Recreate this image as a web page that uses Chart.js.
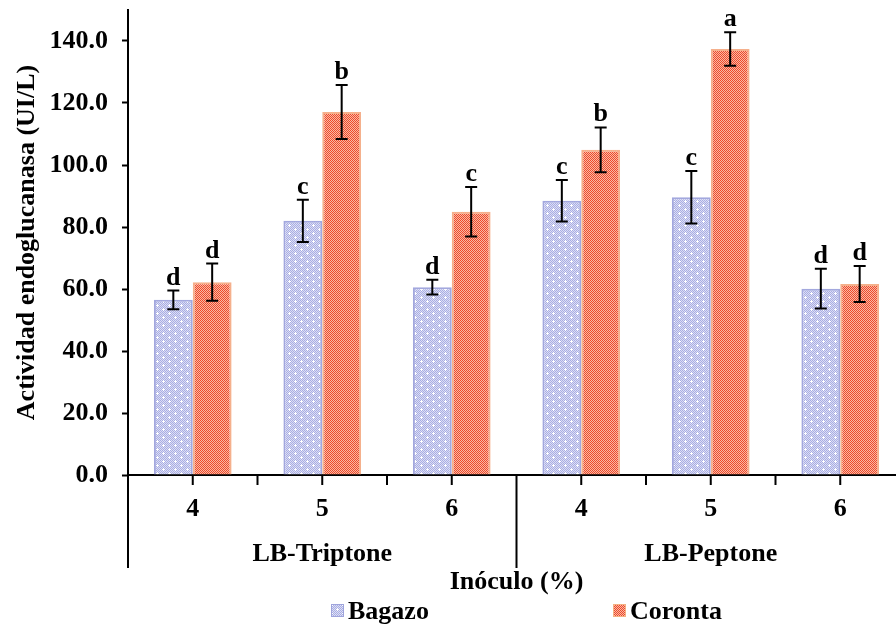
<!DOCTYPE html>
<html>
<head>
<meta charset="utf-8">
<script src="https://cdn.jsdelivr.net/npm/chart.js@4/dist/chart.umd.min.js"></script>
<style>
  body { margin: 0; background: #fff; overflow: hidden; }
  #wrap { width: 905px; height: 625px; }
</style>
</head>
<body>
<div id="wrap"><canvas id="chart" width="905" height="625"></canvas></div>
<script>
// datos
const categories = ['4', '5', '6', '4', '5', '6'];
const groups = ['LB-Triptone', 'LB-Peptone'];
const bagazo = [56.5, 82.0, 60.6, 88.5, 89.6, 60.1];
const bagazoErr = [3.0, 6.8, 2.4, 6.7, 8.5, 6.4];
const bagazoLetters = ['d', 'c', 'd', 'c', 'c', 'd'];
const coronta = [62.2, 117.1, 84.9, 104.9, 137.4, 61.6];
const corontaErr = [6.0, 8.7, 8.0, 7.2, 5.4, 5.8];
const corontaLetters = ['d', 'b', 'c', 'b', 'a', 'd'];

const FONT = "'Liberation Serif', 'Times New Roman', serif";

// patrones de relleno
function makeBagazoPattern() {
    const c = document.createElement('canvas');
    c.width = 12; c.height = 8;
    const g = c.getContext('2d');
    for (let y = 0; y < 8; y++) {
        for (let x = 0; x < 12; x++) {
            g.fillStyle = (x + y) % 2 === 0 ? '#a9aee2' : '#dcdef6';
            g.fillRect(x, y, 1, 1);
        }
    }
    g.fillStyle = '#ffffff';
    [[1, 1], [7, 5]].forEach(([x, y]) => {
        g.fillRect(x, y - 1, 1, 3);
        g.fillRect(x - 1, y, 3, 1);
    });
    return g.createPattern(c, 'repeat');
}

function makeCorontaPattern() {
    const c = document.createElement('canvas');
    c.width = 4; c.height = 4;
    const g = c.getContext('2d');
    for (let y = 0; y < 4; y++) {
        for (let x = 0; x < 4; x++) {
            g.fillStyle = (x + y) % 2 === 0 ? '#ee4a2c' : '#f9b9a4';
            g.fillRect(x, y, 1, 1);
        }
    }
    return g.createPattern(c, 'repeat');
}

const bagazoFill = makeBagazoPattern();
const corontaFill = makeCorontaPattern();

// barras de error y letras
const errorBars = {
    id: 'errorBars',
    afterDatasetsDraw(chart) {
        const ctx = chart.ctx;
        const y = chart.scales.y;
        const sets = [[bagazo, bagazoErr, bagazoLetters], [coronta, corontaErr, corontaLetters]];
        ctx.save();
        ctx.strokeStyle = '#000';
        ctx.lineWidth = 2;
        sets.forEach((s, di) => {
            const meta = chart.getDatasetMeta(di);
            meta.data.forEach((bar, i) => {
                const cx = bar.x;
                const top = y.getPixelForValue(s[0][i] + s[1][i]);
                const bot = y.getPixelForValue(s[0][i] - s[1][i]);
                ctx.beginPath();
                ctx.moveTo(cx, top); ctx.lineTo(cx, bot);
                ctx.moveTo(cx - 6, top); ctx.lineTo(cx + 6, top);
                ctx.moveTo(cx - 6, bot); ctx.lineTo(cx + 6, bot);
                ctx.stroke();
                ctx.fillStyle = '#000';
                ctx.font = 'bold 26px ' + FONT;
                ctx.textAlign = 'center';
                ctx.textBaseline = 'alphabetic';
                ctx.fillText(s[2][i], cx, top - 6);
            });
        });
        ctx.restore();
    }
};

// marcas del eje x, separadores de grupo, leyenda
const axisExtras = {
    id: 'axisExtras',
    afterDraw(chart) {
        const ctx = chart.ctx;
        const x = chart.scales.x;
        const area = chart.chartArea;
        const half = (x.getPixelForValue(1) - x.getPixelForValue(0)) / 2;
        ctx.save();
        ctx.strokeStyle = '#000';
        ctx.lineWidth = 2;
        ctx.beginPath();
        categories.forEach((c, i) => {
            const px = x.getPixelForValue(i);
            [px - half, px, px + half].forEach(p => {
                ctx.moveTo(p, area.bottom); ctx.lineTo(p, area.bottom + 10);
            });
        });
        // líneas verticales de grupo
        [0, 3].forEach(i => {
            const p = x.getPixelForValue(i) - half;
            ctx.moveTo(p, area.bottom); ctx.lineTo(p, 568);
        });
        ctx.stroke();

        ctx.fillStyle = '#000';
        ctx.font = 'bold 26px ' + FONT;
        ctx.textAlign = 'center';
        ctx.textBaseline = 'middle';
        groups.forEach((g, gi) => {
            const p = (x.getPixelForValue(gi * 3) + x.getPixelForValue(gi * 3 + 2)) / 2;
            ctx.fillText(g, p, 554);
        });

        // leyenda
        const items = [['Bagazo', bagazoFill, '#9fa4dc', 331], ['Coronta', corontaFill, '#f4b183', 613]];
        ctx.textAlign = 'left';
        items.forEach(([label, fill, border, lx]) => {
            ctx.fillStyle = fill;
            ctx.fillRect(lx, 604, 13, 13);
            ctx.strokeStyle = border;
            ctx.lineWidth = 1;
            ctx.strokeRect(lx + 0.5, 604.5, 12, 12);
            ctx.fillStyle = '#000';
            ctx.fillText(label, lx + 17, 612);
        });
        ctx.restore();
    }
};

new Chart(document.getElementById('chart'), {
    type: 'bar',
    data: {
        labels: categories,
        datasets: [
            {
                label: 'Bagazo',
                data: bagazo,
                backgroundColor: bagazoFill,
                borderColor: '#a3a8de',
                borderWidth: 2,
                borderSkipped: 'bottom'
            },
            {
                label: 'Coronta',
                data: coronta,
                backgroundColor: corontaFill,
                borderColor: '#f5b08c',
                borderWidth: 2,
                borderSkipped: 'bottom'
            }
        ]
    },
    options: {
        responsive: false,
        animation: false,
        events: [],
        layout: { padding: { top: 10, left: 0, right: 0, bottom: 0 } },
        datasets: { bar: { categoryPercentage: 0.6, barPercentage: 1.0 } },
        plugins: {
            legend: { display: false },
            tooltip: { enabled: false }
        },
        scales: {
            x: {
                afterFit(scale) {
                    scale.height = 150;
                    scale.paddingLeft = 0;
                    scale.paddingRight = 0;
                },
                grid: { display: false },
                border: { display: true, color: '#000', width: 2 },
                ticks: {
                    color: '#000',
                    padding: 11,
                    font: { family: FONT, size: 26, weight: 'bold' }
                },
                title: {
                    display: true,
                    text: 'Inóculo (%)',
                    color: '#000',
                    font: { family: FONT, size: 26, weight: 'bold' },
                    padding: { top: 0, bottom: 27 }
                }
            },
            y: {
                min: 0,
                max: 150,
                afterFit(scale) {
                    scale.width = 128;
                    scale.paddingTop = 0;
                    scale.paddingBottom = 0;
                },
                afterBuildTicks(scale) {
                    scale.ticks = scale.ticks.filter(t => t.value <= 140);
                },
                grid: {
                    drawOnChartArea: false,
                    tickLength: 6,
                    tickWidth: 2,
                    color: '#000'
                },
                border: { display: true, color: '#000', width: 2 },
                ticks: {
                    stepSize: 20,
                    color: '#000',
                    padding: 14,
                    font: { family: FONT, size: 26, weight: 'bold' },
                    callback: v => v.toFixed(1)
                },
                title: {
                    display: true,
                    text: 'Actividad endoglucanasa (UI/L)',
                    color: '#000',
                    font: { family: FONT, size: 26, weight: 'bold' },
                    padding: { top: 12, bottom: 0 }
                }
            }
        }
    },
    plugins: [errorBars, axisExtras]
});
</script>
</body>
</html>
